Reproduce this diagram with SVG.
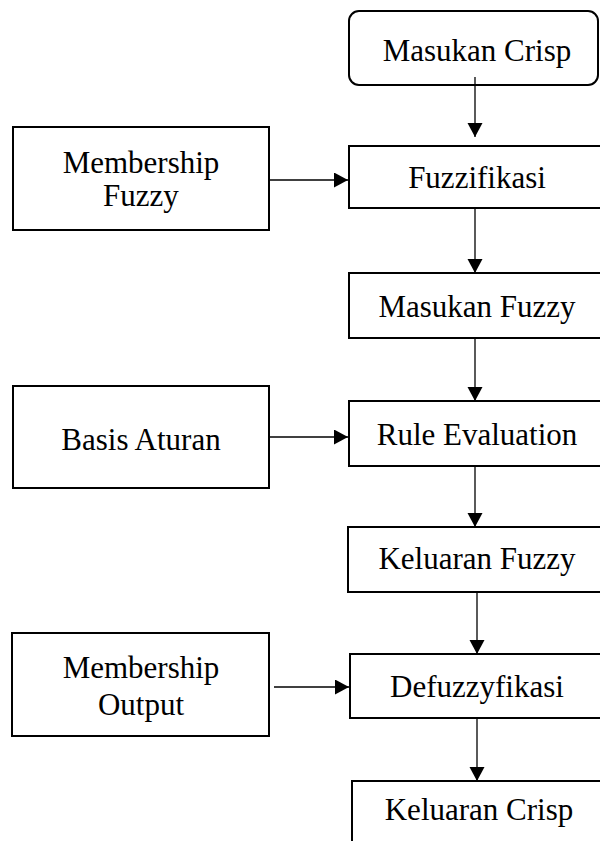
<svg xmlns="http://www.w3.org/2000/svg" width="600" height="841" viewBox="0 0 600 841">
<style>
.box{fill:#fff;stroke:#000;stroke-width:2}
.t{font-family:"Liberation Serif","Times New Roman",serif;font-size:31px;fill:#000;text-anchor:middle}
.c{stroke:#000;stroke-width:1.3;fill:none}
</style>
<defs>
<marker id="ah" markerUnits="userSpaceOnUse" markerWidth="16" markerHeight="16" refX="14" refY="7.5" orient="auto">
<path d="M0,0 L14,7.5 L0,15 Z" fill="#000"/>
</marker>
</defs>
<rect width="600" height="841" fill="#fff"/>
<g id="masukan-crisp"><rect class="box" x="349" y="11" width="249" height="74" rx="10"/><text class="t" x="477" y="61">Masukan Crisp</text></g>
<g id="membership-fuzzy"><rect class="box" x="13" y="127" width="256" height="103"/><text class="t" x="141" y="173">Membership</text><text class="t" x="141" y="206">Fuzzy</text></g>
<g id="fuzzifikasi"><rect class="box" x="349" y="146" width="260" height="62"/><text class="t" x="477" y="188">Fuzzifikasi</text></g>
<g id="masukan-fuzzy"><rect class="box" x="349" y="273" width="260" height="65"/><text class="t" x="477" y="317">Masukan Fuzzy</text></g>
<g id="basis-aturan"><rect class="box" x="13" y="386" width="256" height="102"/><text class="t" x="141" y="450">Basis Aturan</text></g>
<g id="rule-evaluation"><rect class="box" x="349" y="401" width="260" height="65"/><text class="t" x="477" y="445">Rule Evaluation</text></g>
<g id="keluaran-fuzzy"><rect class="box" x="348" y="527" width="260" height="65"/><text class="t" x="477" y="569">Keluaran Fuzzy</text></g>
<g id="membership-output"><rect class="box" x="12" y="633" width="257" height="103"/><text class="t" x="141" y="678">Membership</text><text class="t" x="141" y="715">Output</text></g>
<g id="defuzzyfikasi"><rect class="box" x="350" y="654" width="260" height="64"/><text class="t" x="477" y="697">Defuzzyfikasi</text></g>
<g id="keluaran-crisp"><rect class="box" x="352" y="781" width="260" height="80"/><text class="t" x="479" y="820">Keluaran Crisp</text></g>
<g id="connectors">
<line class="c" x1="475" y1="77" x2="475" y2="137" marker-end="url(#ah)"/>
<line class="c" x1="475" y1="208" x2="475" y2="273" marker-end="url(#ah)"/>
<line class="c" x1="475" y1="338" x2="475" y2="401" marker-end="url(#ah)"/>
<line class="c" x1="475" y1="466" x2="475" y2="527" marker-end="url(#ah)"/>
<line class="c" x1="477" y1="592" x2="477" y2="654" marker-end="url(#ah)"/>
<line class="c" x1="477" y1="718" x2="477" y2="781" marker-end="url(#ah)"/>
<line class="c" x1="270" y1="180" x2="348" y2="180" marker-end="url(#ah)"/>
<line class="c" x1="270" y1="437" x2="348" y2="437" marker-end="url(#ah)"/>
<line class="c" x1="274" y1="687" x2="349" y2="687" marker-end="url(#ah)"/>
</g>
</svg>
